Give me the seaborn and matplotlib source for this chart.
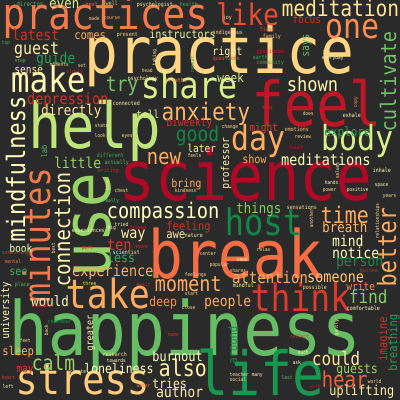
import matplotlib
matplotlib.use("Agg")
import matplotlib.pyplot as plt
import seaborn as sns
from matplotlib.patheffects import AbstractPathEffect
from matplotlib.transforms import Affine2D

# Palabras de la nube y su peso (tamano de letra en px)
words = [
    "practices", "practice", "like", "meditation", "one", "make",
    "share", "help", "feel", "science", "use", "break",
    "happiness", "life", "stress", "take", "minutes", "mindfulness",
    "day", "body", "host", "think", "cultivate", "compassion",
    "anxiety", "guest", "new", "good", "connection", "time",
    "better", "moment", "attention", "also", "hear", "could",
    "find", "calm", "try", "experience", "depression", "little",
    "directly", "latest", "even", "comes", "instructors", "guide",
    "sense", "shown", "right", "week", "focus", "says",
    "tell", "biweekly", "later", "might", "explore", "professor",
    "show", "meditations", "bring", "things", "breath", "mind",
    "notice", "person", "someone", "write", "people", "feeling",
    "way", "awe", "ten", "less", "book", "see",
    "university", "would", "deep", "greater", "sleep", "burnout",
    "may", "loneliness", "tries", "author", "around", "imagine",
    "breathing", "guests", "uplifting", "lab", "director", "next",
    "well", "psychologist", "health", "made", "course", "present",
    "tap", "step", "moments", "set", "slowly", "head",
    "taking", "repeat", "psychology", "breaths", "connected", "joy",
    "indigenous", "first", "family", "questions", "gratitude", "earth",
    "community", "let", "everyday", "copy", "hand", "does",
    "exhale", "emotions", "change", "review", "touch", "state",
    "look", "eyes", "feels", "different", "actually", "writing",
    "know", "chest", "kindness", "really", "experiences", "pig",
    "tried", "friend", "nature", "leave", "scientist", "part",
    "best", "something", "mental", "place", "three", "music",
    "feelings", "center", "popular", "shares", "need", "relax",
    "mindful", "values", "hands", "space", "power", "positive",
    "years", "inhale", "sensations", "another", "relationships", "guinea",
    "possible", "comfortable", "gently", "reflect", "much", "ask",
    "teacher", "social", "many", "last", "world", "work",
    "climate", "start", "close", "remember", "back", "name",
    "feet", "research", "towards", "create", "heart", "left",
    "water",
]

freq = [
    38, 56, 26, 19.5, 30, 31,
    32, 55, 54, 60, 58, 58,
    65, 53, 37, 35, 32, 22,
    30, 30, 32, 33, 18.5, 18.7,
    21, 15, 19, 18, 19, 20,
    22, 18.5, 14, 20, 19, 16,
    16, 18, 18, 13.5, 13.5, 13,
    12.5, 13, 12.5, 10.5, 10, 13,
    9.5, 17, 10, 11, 9.5, 9.5,
    9.5, 9.5, 9.5, 9.5, 11, 9.5,
    10, 13.5, 10, 12.5, 12.5, 13,
    13, 13, 13.5, 9.5, 13, 10.5,
    13.5, 10.5, 13.5, 11.5, 9.5, 10,
    9.5, 12.5, 11.5, 8.5, 10.5, 12,
    9.5, 11.5, 11.5, 13, 10.5, 10.5,
    10.5, 11.5, 12, 7, 5.5, 5,
    5, 5, 5, 4.5, 4.5, 5,
    4.5, 4.5, 4.5, 4.5, 4.5, 4.5,
    4.5, 4.5, 5, 5, 5, 5,
    5, 5, 5, 5, 5, 5,
    5, 4.5, 4.5, 4.5, 4.5, 4.5,
    5, 5, 4.5, 4.5, 4.5, 4.5,
    4.5, 4.5, 4.5, 5, 5, 5,
    4.5, 4.5, 4.5, 4.5, 5, 4.5,
    4.5, 4.5, 5, 5, 5, 4.5,
    4.5, 5, 4.5, 5, 4.5, 4.5,
    4.5, 4.5, 4.5, 4.5, 4.5, 4.5,
    5, 4.5, 4.5, 4.5, 4.5, 4.5,
    4.5, 5, 5, 4.5, 4.5, 5,
    5, 5, 4.5, 4.5, 4.5, 4.5,
    4.5, 4.5, 4.5, 4.5, 4.5, 4.5,
    5, 4.5, 4.5, 5, 4.5, 4.5,
    4.5, 5, 4.5, 4.5, 4.5, 4.5,
    4.5,
]

# posicion de cada palabra: (x izquierda, y linea base, rotacion)
layout = [
    (5, 29, 0), (88, 73, 0), (218, 25, 0), (283, 16, 0), (327, 38, 0), (13, 92, 0),
    (143, 98, 0), (32, 148, 0), (255, 126, 0), (123, 200, 0), (110, 273, 90), (152, 278, 0),
    (13, 355, 0), (200, 395, 0), (18, 394, 0), (68, 308, 0), (50, 300, 90), (25, 240, 90),
    (233, 150, 0), (323, 150, 0), (227, 235, 0), (253, 311, 0), (396, 130, 90), (108, 218, 0),
    (163, 120, 0), (15, 54, 0), (148, 164, 0), (177, 141, 0), (70, 285, 90), (322, 223, 0),
    (396, 285, 90), (156, 291, 0), (233, 283, 0), (160, 376, 0), (323, 387, 0), (313, 365, 0),
    (350, 303, 0), (33, 370, 0), (107, 91, 0), (73, 276, 0), (28, 104, 0), (55, 168, 0),
    (42, 115, 0), (13, 40, 0), (50, 8, 0), (75, 39, 0), (150, 38, 0), (37, 63, 0),
    (15, 73, 0), (288, 91, 0), (213, 55, 0), (218, 82, 0), (293, 23, 0), (309, 56, 90),
    (137, 118, 0), (167, 126, 0), (188, 152, 0), (250, 131, 0), (325, 136, 0), (229, 188, 90),
    (243, 163, 0), (282, 165, 0), (172, 187, 0), (237, 213, 0), (323, 232, 0), (333, 246, 0),
    (333, 258, 0), (337, 266, 0), (308, 282, 0), (347, 290, 0), (205, 306, 0), (167, 230, 0),
    (122, 238, 0), (167, 238, 0), (108, 250, 0), (108, 262, 0), (10, 252, 0), (10, 275, 0),
    (9, 338, 90), (32, 306, 0), (150, 306, 0), (93, 350, 90), (3, 355, 0), (153, 361, 0),
    (17, 372, 0), (85, 373, 0), (153, 388, 0), (157, 397, 0), (237, 363, 90), (387, 360, 90),
    (397, 370, 90), (337, 373, 0), (330, 395, 0), (47, 157, 90), (17, 6, 0), (86, 6, 0),
    (106, 5, 0), (137, 6, 0), (180, 6, 0), (89, 20, 0), (104, 19, 0), (117, 36, 0),
    (2, 44, 0), (15, 62, 0), (50, 66, 0), (78, 67, 0), (67, 73, 0), (142, 72, 0),
    (156, 65, 90), (194, 72, 90), (128, 80, 0), (166, 82, 0), (113, 105, 0), (223, 19, 0),
    (213, 34, 0), (260, 31, 0), (263, 38, 0), (213, 60, 0), (257, 53, 0), (253, 59, 0),
    (257, 64, 0), (323, 54, 0), (322, 59, 0), (357, 107, 90), (262, 109, 0), (303, 115, 0),
    (343, 117, 0), (285, 131, 0), (222, 128, 0), (295, 138, 0), (290, 149, 0), (95, 127, 0),
    (95, 137, 0), (122, 137, 0), (188, 157, 0), (97, 157, 0), (105, 164, 0), (98, 172, 0),
    (109, 190, 90), (115, 192, 0), (175, 192, 0), (103, 202, 0), (72, 232, 0), (108, 229, 0),
    (115, 226, 0), (130, 229, 0), (185, 237, 0), (133, 248, 0), (113, 254, 0), (82, 249, 0),
    (55, 253, 90), (2, 254, 0), (5, 263, 0), (15, 286, 0), (83, 285, 0), (137, 286, 0),
    (185, 276, 0), (200, 255, 0), (210, 266, 0), (230, 272, 0), (237, 261, 0), (257, 251, 0),
    (233, 287, 0), (339, 178, 90), (325, 184, 0), (375, 186, 0), (323, 191, 0), (347, 191, 0),
    (383, 197, 0), (373, 172, 0), (287, 209, 0), (313, 227, 90), (379, 238, 90), (360, 272, 0),
    (303, 289, 0), (347, 310, 0), (338, 335, 90), (290, 338, 0), (298, 354, 0), (293, 364, 0),
    (230, 376, 0), (230, 381, 0), (252, 376, 0), (282, 379, 0), (368, 383, 0), (310, 388, 0),
    (32, 307, 0), (185, 295, 0), (182, 309, 0), (48, 323, 0), (48, 335, 90), (168, 336, 0),
    (20, 342, 0), (103, 356, 0), (107, 362, 0), (70, 373, 0), (2, 379, 0), (3, 388, 0),
    (137, 387, 0),
]

# tono dentro del mapa RdYlGn
shade = [
    .22, .38, .15, .42, .25, .48,
    .6, .65, .05, .02, .72, .2,
    .8, .9, .36, .3, .22, .5,
    .3, .6, .93, .12, .78, .5,
    .32, .45, .3, .93, .48, .3,
    .3, .3, .3, .45, .18, .42,
    .75, .72, .78, .3, .1, .72,
    .42, .1, .6, .3, .55, .88,
    .45, .47, .45, .6, .1, .8,
    .6, .1, .45, .12, .88, .45,
    .3, .5, .3, .75, .32, .5,
    .5, .92, .35, .25, .3, .1,
    .45, .45, .12, .85, .5, .85,
    .5, .5, .25, .45, .3, .5,
    .12, .5, .45, .45, .92, .1,
    .88, .72, .45, .8, .82, .2,
    .35, .55, .85, .35, .3, .38,
    .85, .8, .4, .4, .08, .38,
    .45, .85, .45, .25, .45, .4,
    .4, .15, .35, .15, .05, .85,
    .85, .45, .5, .25, .08, .4,
    .5, .35, .4, .4, .05, .42,
    .4, .4, .42, .85, .82, .08,
    .4, .42, .4, .8, .55, .5,
    .5, .08, .45, .08, .45, .1,
    .4, .1, .2, .82, .4, .08,
    .4, .4, .4, .38, .5, .4,
    .5, .45, .5, .5, .4, .5,
    .4, .5, .4, .38, .4, .08,
    .4, .5, .42, .1, .5, .5,
    .42, .4, .45, .8, .4, .05,
    .12, .4, .4, .92, .42, .1,
    .4, .4, .5, .5, .12, .5,
    .22,
]

assert len(words) == len(freq) == len(layout) == len(shade)


# la fuente del original es mas estrecha: se estrecha el texto a lo largo de la linea
class Estrechar(AbstractPathEffect):
    def __init__(self, c):
        super().__init__()
        self.c = c

    def draw_path(self, renderer, gc, tpath, affine, rgbFace=None):
        renderer.draw_path(gc, tpath, Affine2D().scale(self.c, 1) + affine, rgbFace)


sns.set_theme(style="dark")
plt.rcParams['font.family'] = ['DejaVu Sans Mono']
cmap = sns.color_palette("RdYlGn", as_cmap=True)

fondo = '#2a2a2a'
c = 0.87
fig = plt.figure(figsize=(4, 4), dpi=100, facecolor=fondo)
ax = fig.add_axes([0, 0, 1, 1])
ax.set_xlim(0, 400)
ax.set_ylim(400, 0)
ax.axis('off')

for w, f, (x, y, r), s in zip(words, freq, layout, shade):
    pad = 0.07 * f
    pt = f / c * 0.72
    if r == 0:
        ax.text(x - pad, y, w, fontsize=pt, color=cmap(s),
                ha='left', va='baseline', path_effects=[Estrechar(c)])
    else:
        ax.text(x, y + pad, w, fontsize=pt, color=cmap(s),
                rotation=90, rotation_mode='anchor', ha='left', va='baseline',
                path_effects=[Estrechar(c)])

fig.savefig('out.png', dpi=100, facecolor=fondo)
